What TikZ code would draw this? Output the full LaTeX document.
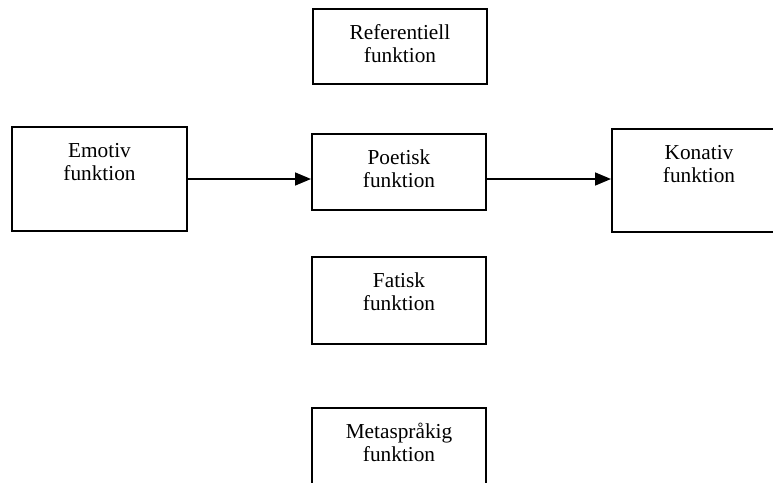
\documentclass[tikz,border=0pt]{standalone}
\usepackage{fontspec}
\setmainfont{Liberation Serif}
\usetikzlibrary{arrows.meta}

\begin{document}
\begin{tikzpicture}[x=1pt, y=-1pt, font=\fontsize{21.3}{23}\selectfont,
	every node/.style={draw, line width=2pt, minimum width=174pt, align=center, inner sep=0pt, text height=53pt, anchor=north west},
	pil/.style={-{Triangle[length=16pt, width=13pt]}, line width=1.6pt}]
	
	% ram
	\path[use as bounding box, clip] (0, 0) rectangle (773, 482);
	
	% översta raden
	\node[text depth=22pt] (referentiell) at (312, 8) {Referentiell\\funktion};
	
	% mittraden
	\node[text depth=51pt, minimum width=175pt] (emotiv) at (11, 126) {Emotiv\\funktion};
	\node[text depth=23pt] (poetisk) at (311, 133) {Poetisk\\funktion};
	\node[text depth=50pt] (konativ) at (611, 128) {Konativ\\funktion};
	\draw[pil] (emotiv.east) -- (emotiv.east -| poetisk.west);
	\draw[pil] (emotiv.east -| poetisk.east) -- (emotiv.east -| konativ.west);
	
	% under
	\node[text depth=34pt] (fatisk) at (311, 256) {Fatisk\\funktion};
	\node[text depth=37pt] (metasprakig) at (311, 407) {Metaspråkig\\funktion};
\end{tikzpicture}
\end{document}
